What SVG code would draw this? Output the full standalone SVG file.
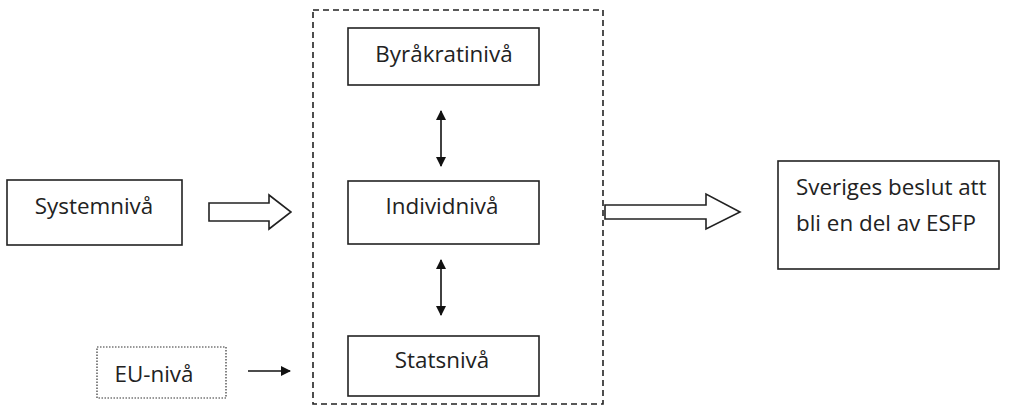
<svg xmlns="http://www.w3.org/2000/svg" width="1009" height="406" viewBox="0 0 1009 406">
<defs>
<style>
.box{fill:#fff;stroke:#222;stroke-width:1.6}
.dash{fill:none;stroke:#222;stroke-width:1.6;stroke-dasharray:6 4}
.dot{fill:#fff;stroke:#333;stroke-width:1.2;stroke-dasharray:1.5 1.5}
.t{font-family:"Open Sans","Liberation Sans",sans-serif;font-size:22.4px;fill:#222}
.ln{stroke:#111;stroke-width:1.6;fill:none}
.hollow{fill:#fff;stroke:#222;stroke-width:1.6;stroke-linejoin:miter}
</style>
<marker id="ah2" viewBox="0 0 10 10" refX="9" refY="5" markerWidth="10" markerHeight="10" markerUnits="userSpaceOnUse" orient="auto-start-reverse">
<path d="M0,0 L10,5 L0,10 z" fill="#111"/>
</marker>
</defs>
<rect width="1009" height="406" fill="#fff"/>
<g id="group-frame"><rect class="dash" x="313" y="10" width="290" height="394"/></g>
<g id="node-systemniva"><rect class="box" x="7" y="180" width="175" height="65"/><text class="t" x="94" y="214" text-anchor="middle">Systemnivå</text></g>
<g id="node-byrakratiniva"><rect class="box" x="348" y="28" width="191" height="57"/><text class="t" x="444" y="62" text-anchor="middle">Byråkratinivå</text></g>
<g id="node-individniva"><rect class="box" x="348" y="181" width="191" height="63"/><text class="t" x="442" y="214" text-anchor="middle">Individnivå</text></g>
<g id="node-statsniva"><rect class="box" x="348" y="336" width="191" height="60"/><text class="t" x="442" y="368" text-anchor="middle">Statsnivå</text></g>
<g id="node-euniva"><rect class="dot" x="97" y="347" width="129" height="51"/><text class="t" x="154" y="382" text-anchor="middle">EU-nivå</text></g>
<g id="node-beslut"><rect class="box" x="778" y="161" width="221" height="108"/><text class="t" x="796" y="195">Sveriges beslut att</text><text class="t" x="796" y="231">bli en del av ESFP</text></g>
<g id="connectors">
<path class="hollow" d="M209,203 H269 V195 L291,212 L269,229 V221 H209 Z"/>
<path class="hollow" d="M605,205 H706 V194 L740,212 L706,229 V219 H605 Z"/>
<line class="ln" x1="248" y1="371" x2="290" y2="371" marker-end="url(#ah2)"/>
<line class="ln" x1="441" y1="111" x2="441" y2="166" marker-start="url(#ah2)" marker-end="url(#ah2)"/>
<line class="ln" x1="441" y1="260" x2="441" y2="315" marker-start="url(#ah2)" marker-end="url(#ah2)"/>
</g>
</svg>
